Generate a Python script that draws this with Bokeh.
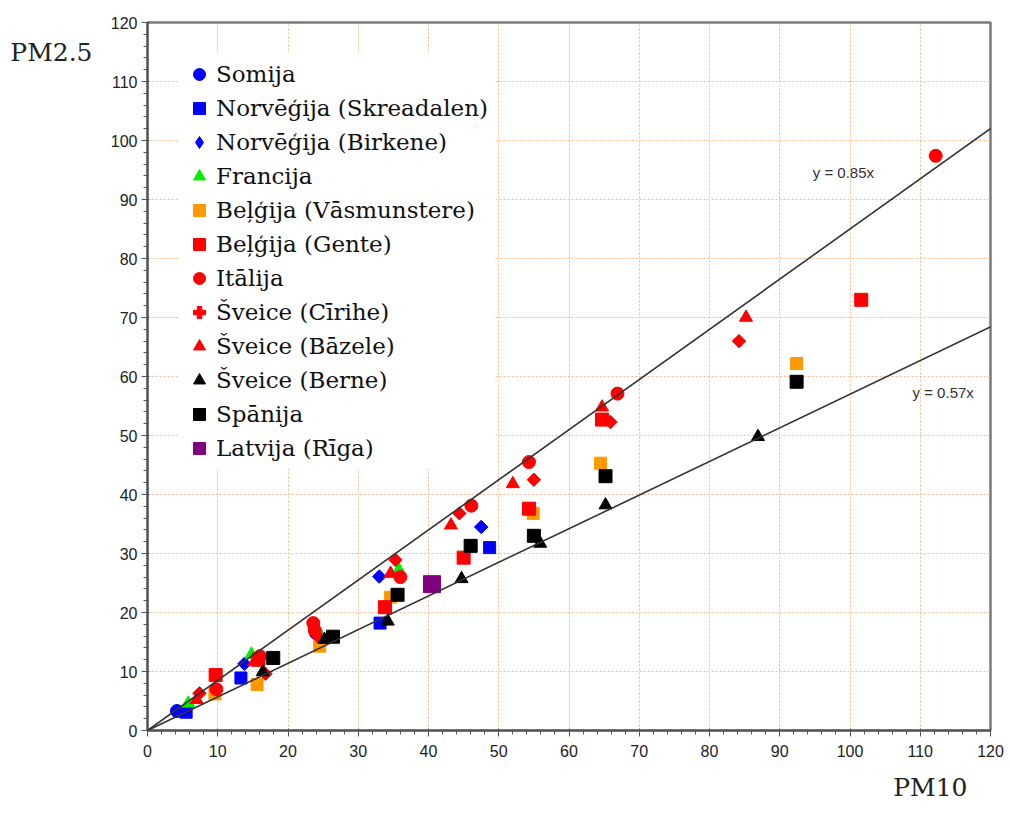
import math
from bokeh.plotting import figure
from bokeh.models import Range1d, FixedTicker, Legend, LegendItem, Label, Slope, Title, LinearAxis
from bokeh.embed import file_html
from bokeh.resources import INLINE

# ---- data (PM10 = x, PM2.5 = y) ----
tick_values = list(range(0, 121, 10))
minor_values = list(range(0, 121, 2))

somija_x = [4.2, 24.0]
somija_y = [3.3, 16.5]
skreadalen_x = [5.5, 13.3, 33.1, 48.7]
skreadalen_y = [3.1, 8.9, 18.2, 31.0]
birkene_x = [13.8, 33.0, 47.5]
birkene_y = [11.3, 26.1, 34.5]
francija_x = [5.8, 14.8, 24.3, 35.8]
francija_y = [4.6, 12.9, 16.8, 27.2]
vasmunstere_x = [9.6, 15.6, 24.5, 34.6, 54.9, 64.5, 92.4]
vasmunstere_y = [6.2, 7.8, 14.3, 22.6, 36.8, 45.3, 62.2]
gente_x = [9.7, 15.8, 33.8, 45.0, 54.3, 64.7, 101.6]
gente_y = [9.4, 12.0, 20.9, 29.3, 37.6, 52.7, 73.0]
italija_x = [9.8, 16.0, 23.6, 23.8, 36.0, 46.1, 54.3, 66.9, 112.2]
italija_y = [7.0, 12.6, 18.2, 17.0, 26.0, 38.1, 45.5, 57.1, 97.4]
cirihe_x = [7.4, 16.8, 24.2, 35.3, 44.4, 55.0, 65.9, 84.2]
cirihe_y = [6.3, 9.6, 16.0, 28.9, 36.8, 42.5, 52.3, 66.0]
bazele_x = [7.0, 15.2, 34.6, 43.2, 52.0, 64.7, 85.2]
bazele_y = [5.2, 11.6, 26.6, 34.8, 41.8, 54.8, 70.0]
berne_x = [16.4, 25.2, 34.2, 44.7, 55.9, 65.2, 86.9]
berne_y = [9.9, 15.4, 18.5, 25.7, 31.7, 38.2, 49.8]
spanija_x = [17.9, 26.4, 35.6, 46.0, 55.0, 65.2, 92.4]
spanija_y = [12.3, 15.9, 23.0, 31.3, 33.0, 43.1, 59.1]
latvija_x = [40.5]
latvija_y = [24.8]

slopes = [0.85, 0.57]
slope_labels = ["y = 0.85x", "y = 0.57x"]

labels = ["Somija", "Norvēģija (Skreadalen)", "Norvēģija (Birkene)", "Francija",
          "Beļģija (Vāsmunstere)", "Beļģija (Gente)", "Itālija", "Šveice (Cīrihe)",
          "Šveice (Bāzele)", "Šveice (Berne)", "Spānija", "Latvija (Rīga)"]

p = figure(width=1010, height=814, output_backend="svg", toolbar_location=None,
           x_range=Range1d(0, 120), y_range=Range1d(0, 120),
           min_border_left=147, min_border_right=20, min_border_top=22, min_border_bottom=84,
           background_fill_color="white", border_fill_color="white")

p.outline_line_color = "#7a7a7a"
p.outline_line_width = 2.5

for ax in (p.xaxis, p.yaxis):
    ax.ticker = FixedTicker(ticks=tick_values, minor_ticks=minor_values)
    ax.axis_line_color = "#555555"
    ax.axis_line_width = 2
    ax.major_tick_line_color = "#555555"
    ax.minor_tick_line_color = "#555555"
    ax.major_tick_out = 6
    ax.major_tick_in = 2
    ax.minor_tick_out = 4
    ax.minor_tick_in = 1
    ax.major_label_text_font = "Liberation Sans"
    ax.major_label_text_font_size = "16px"
    ax.major_label_text_color = "#222222"
p.xaxis.major_label_standoff = 8
p.yaxis.major_label_standoff = 4

for g in (p.xgrid, p.ygrid):
    g.ticker = FixedTicker(ticks=tick_values)
    g.grid_line_color = "#f6b98c"
    g.grid_line_dash = "2 2"
    g.grid_line_width = 1

for s in slopes:
    p.add_layout(Slope(gradient=s, y_intercept=0, line_color="#333333", line_width=1.6))

sz = 13
r_som = p.scatter(somija_x, somija_y, marker="circle", size=sz, color="#0000ff")
r_skr = p.scatter(skreadalen_x, skreadalen_y, marker="square", size=12, color="#0000ff")
r_bir = p.scatter(birkene_x, birkene_y, marker="square", angle=math.pi / 4, size=9.5, color="#0000ff")
r_bir_leg = p.scatter(birkene_x, birkene_y, marker="diamond", size=sz, color="#0000ff", visible=False)
r_fra = p.scatter(francija_x, francija_y, marker="triangle", size=sz, color="#00ee00")
r_vas = p.scatter(vasmunstere_x, vasmunstere_y, marker="square", size=12, color="#ff9900")
r_gen = p.scatter(gente_x, gente_y, marker="square", size=13, color="#ff0000")
r_ita = p.scatter(italija_x, italija_y, marker="circle", size=sz, color="#ff0000")
r_cir = p.scatter(cirihe_x, cirihe_y, marker="square", angle=math.pi / 4, size=9.5, color="#ff0000")
r_cir_leg = p.scatter(cirihe_x, cirihe_y, marker="plus", size=sz, color="#ff0000", visible=False)
r_baz = p.scatter(bazele_x, bazele_y, marker="triangle", size=sz, color="#ff0000")
r_ber = p.scatter(berne_x, berne_y, marker="triangle", size=sz, color="#000000")
r_spa = p.scatter(spanija_x, spanija_y, marker="square", size=13, color="#000000")
r_lat = p.scatter(latvija_x, latvija_y, marker="square", size=17, color="#800080")

leg_renderers = [r_som, r_skr, r_bir_leg, r_fra, r_vas, r_gen, r_ita, r_cir_leg, r_baz, r_ber, r_spa, r_lat]
items = [LegendItem(label=l, renderers=[r]) for l, r in zip(labels, leg_renderers)]
legend = Legend(items=items, location="top_left", margin=31, padding=6,
                glyph_width=30, glyph_height=30, spacing=4, label_standoff=2,
                label_text_font="DejaVu Serif", label_text_font_size="23px",
                label_text_color="#111111",
                background_fill_color="white", background_fill_alpha=1.0,
                border_line_alpha=0)
p.add_layout(legend)

p.add_layout(Label(x=94.7, y=94.6, text=slope_labels[0], text_font="Liberation Sans",
                   text_font_size="15px", text_color="#333333", text_baseline="middle"))
p.add_layout(Label(x=108.9, y=57.3, text=slope_labels[1], text_font="Liberation Sans",
                   text_font_size="15px", text_color="#333333", text_baseline="middle"))

# y-axis title "PM2.5" at the top-left, drawn as the single tick label of an outer, bare axis
ytitle_axis = LinearAxis(ticker=FixedTicker(ticks=[115]), major_label_overrides={115: "PM2.5"},
                         axis_line_alpha=0, major_tick_line_alpha=0, minor_tick_line_alpha=0,
                         major_tick_out=0, major_tick_in=0, minor_tick_out=0, minor_tick_in=0,
                         major_label_standoff=15, major_label_text_font="DejaVu Serif",
                         major_label_text_font_size="25px", major_label_text_color="#222222")
p.add_layout(ytitle_axis, "left")

p.add_layout(Title(text="PM10", align="right", offset=23, standoff=22,
                   text_font="DejaVu Serif", text_font_size="25px", text_color="#222222",
                   text_font_style="normal"), "below")

open("out.html", "w").write(file_html(p, INLINE))
